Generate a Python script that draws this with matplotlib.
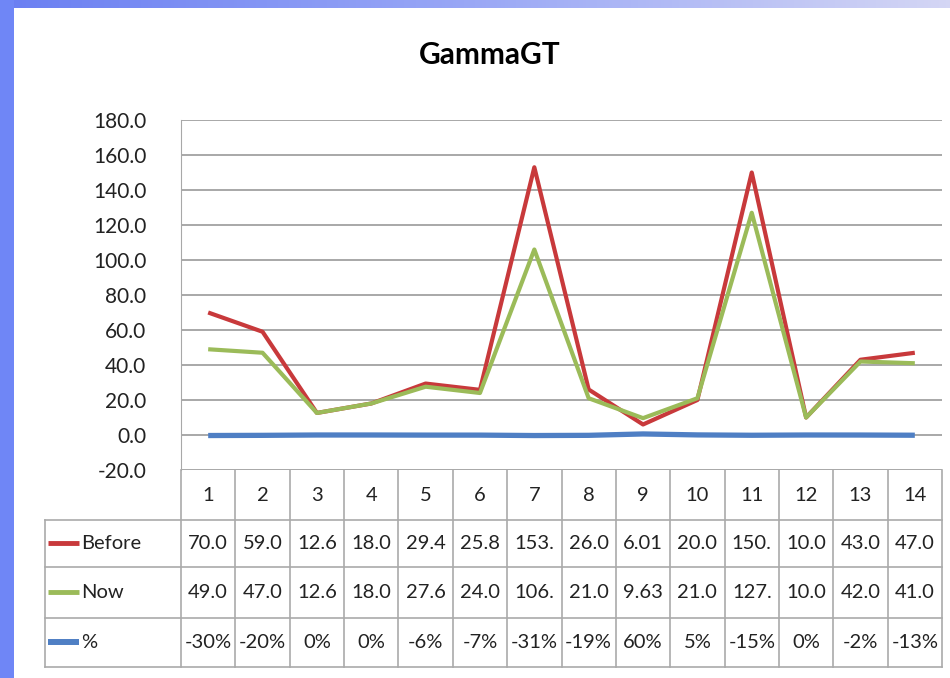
import numpy as np
import matplotlib
matplotlib.use("Agg")
import matplotlib.pyplot as plt

# data
title = "GammaGT"
categories = [str(i) for i in range(1, 15)]
before = [70.0, 59.0, 12.6, 18.0, 29.4, 25.8, 153.0, 26.0, 6.01, 20.0, 150.0, 10.0, 43.0, 47.0]
now = [49.0, 47.0, 12.6, 18.0, 27.6, 24.0, 106.0, 21.0, 9.63, 21.0, 127.0, 10.0, 42.0, 41.0]
pct = [-0.30, -0.20, 0.0, 0.0, -0.06, -0.07, -0.31, -0.19, 0.60, 0.05, -0.15, 0.0, -0.02, -0.13]
yticks = np.arange(-20, 181, 20)

series = [("Before", before, "#c8393b", 3.0), ("Now", now, "#9bbb59", 3.0), ("%", pct, "#4f7fc4", 3.8)]

W, H = 950, 678
plt.rcParams['font.family'] = ['Lato', 'DejaVu Sans']
fig = plt.figure(figsize=(W / 100, H / 100), dpi=100)
fig.patch.set_facecolor("white")

# slide frame: blue bar on the left and a gradient band on top
bg = fig.add_axes([0, 0, 1, 1], zorder=-10)
bg.set_xlim(0, W); bg.set_ylim(H, 0); bg.axis("off")
bg.add_patch(plt.Rectangle((0, 0), 14, H, color="#6f86f6", lw=0))
grad = np.linspace(0, 1, 256)[None, :]
cmap = matplotlib.colors.LinearSegmentedColormap.from_list("top", ["#6a7ff2", "#9aa8f6", "#d4d6f4"])
bg.imshow(grad, extent=(0, W, 8, 0), aspect="auto", cmap=cmap)

fig.text(490 / W, 1 - 55 / H, title, ha="center", va="center", fontsize=21.5, fontweight="bold")

# main line chart
x0, x1, ytop, ybot = 181, 942, 120, 470
ax = fig.add_axes([x0 / W, 1 - ybot / H, (x1 - x0) / W, (ybot - ytop) / H])
x = np.arange(1, 15)
for name, vals, col, lw in series:
    ax.plot(x, vals, color=col, lw=lw, solid_capstyle="butt", zorder=3)
ax.set_xlim(0.5, 14.5)
ax.set_ylim(-20, 180)
ax.set_yticks(yticks)
ax.set_yticklabels([f"{v:.1f}" for v in yticks], fontsize=15, color="#222222")
ax.tick_params(axis="y", length=0, pad=25)
ax.set_xticks([])
ax.grid(axis="y", color="#9a9a9a", lw=1.2)
for s in ["top", "right", "bottom"]:
    ax.spines[s].set_visible(False)
ax.spines["left"].set_color("#a8a8a8")

# data table under the chart
tl, tt, tb = 45, 470, 667
rows = [470, 520, 567, 618, 667]
step = (x1 - x0) / 14
tax = fig.add_axes([tl / W, 1 - tb / H, (x1 - tl) / W, (tb - tt) / H])
xl = 0.5 - (x0 - tl) / step
tax.set_xlim(xl, 14.5)
tax.set_ylim(tb, tt)
tax.axis("off")
gc = "#aaaaaa"
for yy in rows[1:]:
    tax.plot([xl, 14.5], [yy, yy], color=gc, lw=1.2, clip_on=False)
tax.plot([xl, xl], [rows[1], tb], color=gc, lw=1.2, clip_on=False)
for k in range(15):
    tax.plot([0.5 + k, 0.5 + k], [tt, tb], color=gc, lw=1.2, clip_on=False)

fs = 14.5
for i, c in enumerate(categories):
    tax.text(i + 1, 496, c, ha="center", va="center", fontsize=fs, color="#222222")


def fmt(v):
    return f"{v:.2f}"[:4]


cells = [[fmt(v) for v in before], [fmt(v) for v in now], [f"{round(p * 100)}%" for p in pct]]
for r, ((name, vals, col, lw), txts) in enumerate(zip(series, cells)):
    yc = (rows[r + 1] + rows[r + 2]) / 2
    kx0 = 0.5 - (x0 - 48) / step
    kx1 = 0.5 - (x0 - 79) / step
    tax.plot([kx0, kx1], [yc, yc], color=col, lw=lw + 0.5, solid_capstyle="butt")
    tax.text(0.5 - (x0 - 81) / step, yc, name, ha="left", va="center", fontsize=fs, color="#222222")
    for i, t in enumerate(txts):
        tax.text(i + 1, yc, t, ha="center", va="center", fontsize=fs, color="#222222")

fig.savefig("out.png", dpi=100)
